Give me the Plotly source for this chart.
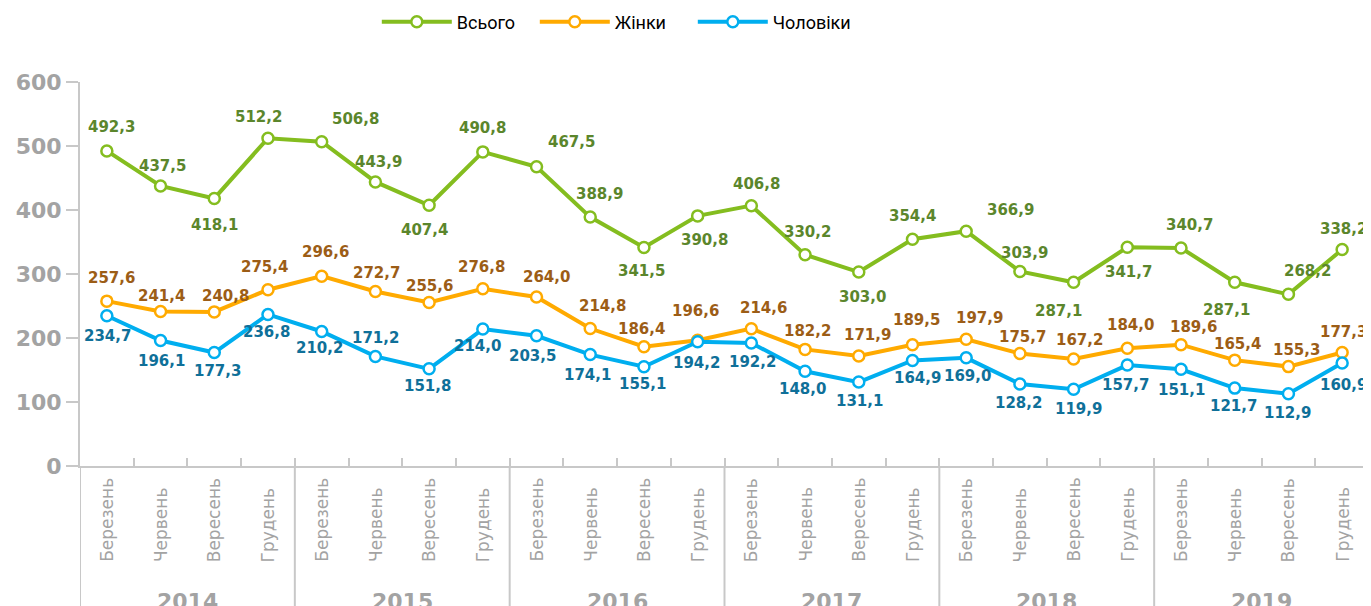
import plotly.graph_objects as go

years = ["2014", "2015", "2016", "2017", "2018", "2019"]
months = ["Березень", "Червень", "Вересень", "Грудень"]

total = [492.3, 437.5, 418.1, 512.2, 506.8, 443.9, 407.4, 490.8, 467.5, 388.9, 341.5, 390.8,
         406.8, 330.2, 303.0, 354.4, 366.9, 303.9, 287.1, 341.7, 340.7, 287.1, 268.2, 338.2]
women = [257.6, 241.4, 240.8, 275.4, 296.6, 272.7, 255.6, 276.8, 264.0, 214.8, 186.4, 196.6,
         214.6, 182.2, 171.9, 189.5, 197.9, 175.7, 167.2, 184.0, 189.6, 165.4, 155.3, 177.3]
men = [234.7, 196.1, 177.3, 236.8, 210.2, 171.2, 151.8, 214.0, 203.5, 174.1, 155.1, 194.2,
       192.2, 148.0, 131.1, 164.9, 169.0, 128.2, 119.9, 157.7, 151.1, 121.7, 112.9, 160.9]

# label offsets (px): dx right, dy down
total_dx = [5, 2, 0, -9, 34, 3, -5, 0, 35, 9, -2, 7, 5, 2, 4, 0, 44, 5, -15, 1, 8, -8, 19, 1]
total_dy = [-24, -20, 27, -21, -23, -20, 25, -24, -25, -23, 24, 24, -22, -23, 25, -23, -21, -19, 29, 25, -23, 28, -23, -21]
women_dx = [5, 1, 11, -3, 4, 1, 0, -1, 10, 12, -2, -2, 12, 2, 9, 4, 13, 3, 6, 3, 12, 3, 8, 1]
women_dy = [-23, -16, -16, -23, -24, -18, -16, -22, -20, -23, -18, -29, -21, -18, -21, -25, -21, -17, -19, -23, -18, -16, -17, -21]
men_dx = [1, 1, 3, -1, -2, 0, -2, -5, -4, -3, -1, -1, 1, -3, 1, 5, 1, -1, 5, -2, 0, -1, -1, 1]
men_dy = [20, 20, 18, 18, 17, -18, 17, 17, 20, 20, 17, 21, 19, 18, 19, 18, 18, 19, 20, 20, 21, 18, 19, 22]

cats = [f"{y} {m}" for y in years for m in months]

series = [
    ("Всього", total, "#84bd1f", "#5b862c", total_dx, total_dy),
    ("Жінки", women, "#ffaa00", "#9c5d16", women_dx, women_dy),
    ("Чоловіки", men, "#00aeef", "#0f7099", men_dx, men_dy),
]

fig = go.Figure()
annotations = []
for name, vals, lc, tc, dxs, dys in series:
    fig.add_trace(go.Scatter(
        x=cats, y=vals, name=name, mode="lines+markers",
        line=dict(color=lc, width=4),
        marker=dict(symbol="circle", size=11, color="white", line=dict(color=lc, width=2.5)),
    ))
    for c, v, dx, dy in zip(cats, vals, dxs, dys):
        annotations.append(dict(
            x=c, y=v, xref="x", yref="y", showarrow=False,
            text=f"{v:.1f}".replace(".", ","),
            xshift=dx, yshift=-dy,
            font=dict(family="DejaVu Sans", size=15, color=tc, weight="bold"),
        ))

plot_h = 384.0
def py(px_from_axis):
    return -px_from_axis / plot_h

# month labels
for c in cats:
    m = c.split(" ", 1)[1]
    annotations.append(dict(
        x=c, y=py(564 - 466), xref="x", yref="paper", showarrow=False,
        text=m, textangle=-90, xanchor="center", yanchor="bottom",
        font=dict(family="DejaVu Sans", size=17, color="#a3a3a3"),
    ))
# year labels
for i, y in enumerate(years):
    annotations.append(dict(
        x=i * len(months) + (len(months) - 1) / 2, y=py(587 - 466), xref="x", yref="paper",
        showarrow=False, text=y, xanchor="center", yanchor="top",
        font=dict(family="DejaVu Sans", size=22, color="#a3a3a3", weight="bold"),
    ))

shapes = []
for i in range(len(years) + 1):
    xb = i * len(months) - 0.5
    shapes.append(dict(type="line", xref="x", yref="paper", x0=xb, x1=xb, y0=0, y1=py(150),
                       line=dict(color="#c8c8c8", width=2)))

W, H = 1371, 606
fig.update_layout(
    width=W, height=H,
    margin=dict(l=72, r=10, t=74, b=148, autoexpand=False),
    plot_bgcolor="white", paper_bgcolor="white",
    showlegend=True,
    legend=dict(orientation="h", x=0.269, xanchor="left", y=1 - 14 / H, yanchor="middle",
                yref="container", xref="container", entrywidth=73, entrywidthmode="pixels",
                font=dict(family="Roboto", size=18, color="black"),
                itemwidth=70, bgcolor="rgba(0,0,0,0)"),
    annotations=annotations,
    shapes=shapes,
    xaxis=dict(type="category", categoryorder="array", categoryarray=cats, automargin=False,
               range=[-0.5, len(cats) - 0.5], showticklabels=False,
               ticks="inside", tickson="boundaries", ticklen=8, tickcolor="#c8c8c8", tickwidth=2,
               showline=True, linecolor="#c8c8c8", linewidth=2, showgrid=False, zeroline=False),
    yaxis=dict(range=[0, 600], dtick=100, ticks="outside", ticklen=12, tickcolor="#c8c8c8", tickwidth=2,
               automargin=False,
               showline=True, linecolor="#c8c8c8", linewidth=2, showgrid=False, zeroline=False,
               tickfont=dict(family="DejaVu Sans", size=22, color="#a3a3a3", weight="bold")),
)

fig.write_html("out.html")
